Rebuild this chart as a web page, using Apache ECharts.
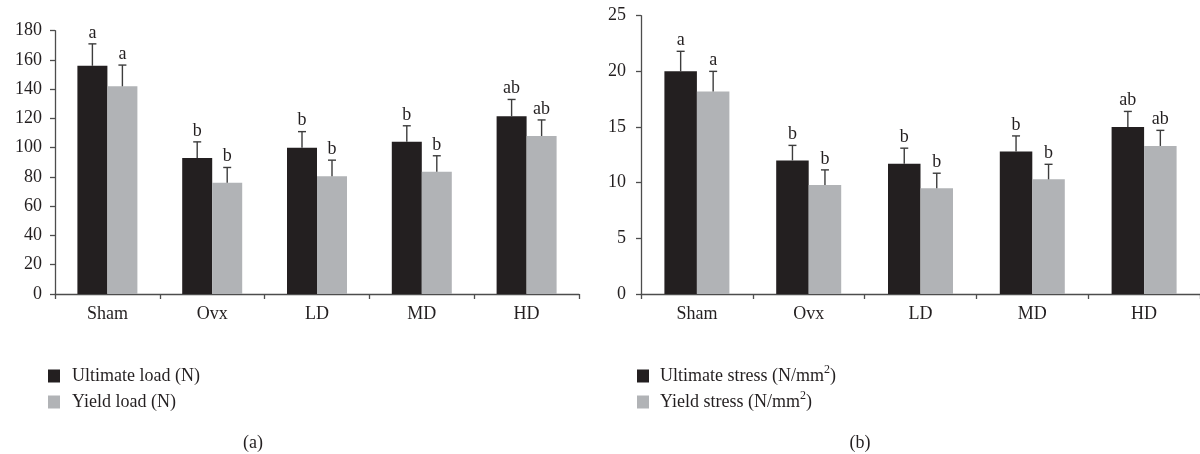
<!DOCTYPE html>
<html>
<head>
<meta charset="utf-8">
<script src="https://cdn.jsdelivr.net/npm/echarts@6/dist/echarts.min.js"></script>
<style>
html,body{margin:0;padding:0;background:#fff;}
#main{width:1200px;height:454px;}
</style>
</head>
<body>
<div id="main"></div>
<script>
// ---- data ----
const categories = ['Sham', 'Ovx', 'LD', 'MD', 'HD'];

const ultimateLoad = [156, 93, 100, 104, 121.5];
const ultimateLoadErr = [15, 11, 11, 11, 11.5];
const yieldLoad = [142, 76, 80.5, 83.5, 108];
const yieldLoadErr = [14.5, 10.5, 11, 11, 11];
const ultimateLoadLetters = ['a', 'b', 'b', 'b', 'ab'];
const yieldLoadLetters = ['a', 'b', 'b', 'b', 'ab'];

const ultimateStress = [20, 12, 11.7, 12.8, 15];
const ultimateStressErr = [1.8, 1.35, 1.4, 1.4, 1.4];
const yieldStress = [18.2, 9.8, 9.5, 10.3, 13.3];
const yieldStressErr = [1.8, 1.35, 1.35, 1.35, 1.4];
const ultimateStressLetters = ['a', 'b', 'b', 'b', 'ab'];
const yieldStressLetters = ['a', 'b', 'b', 'b', 'ab'];

const loadTicks = {min: 0, max: 180, interval: 20};
const stressTicks = {min: 0, max: 25, interval: 5};

// ---- style ----
const FONT = 'Liberation Serif';
const FS = 18;
const TXT = '#231f20';
const DARK = '#231f20';
const GREY = '#b1b3b6';
const AXIS = '#4d4d4d';
const ERR = '#3c3c3c';

function errSeries(name, xi, yi, values, errs, letters, side, barW) {
  return {
    name: name,
    type: 'custom',
    xAxisIndex: xi,
    yAxisIndex: yi,
    z: 5,
    data: values.map((v, i) => [i, v, errs[i]]),
    renderItem: function (params, api) {
      const i = api.value(0), v = api.value(1), e = api.value(2);
      const base = api.coord([i, v]);
      const top = api.coord([i, v + e]);
      const x = base[0] + side * barW / 2;
      const cap = 4;
      return {
        type: 'group',
        children: [
          {type: 'line', shape: {x1: x, y1: base[1], x2: x, y2: top[1]},
           style: {stroke: ERR, lineWidth: 1.4}},
          {type: 'line', shape: {x1: x - cap, y1: top[1], x2: x + cap, y2: top[1]},
           style: {stroke: ERR, lineWidth: 1.4}},
          {type: 'text', x: x, y: top[1] - 2,
           style: {text: letters[params.dataIndex], textAlign: 'center', textVerticalAlign: 'bottom',
                   font: FS + 'px "' + FONT + '"', fill: TXT}}
        ]
      };
    }
  };
}

function xAxisDef(gi) {
  return {
    type: 'category', gridIndex: gi, data: categories,
    axisLine: {lineStyle: {color: AXIS, width: 1.3}},
    axisTick: {show: true, length: 5, lineStyle: {color: AXIS, width: 1.3}},
    axisLabel: {color: TXT, fontFamily: FONT, fontSize: FS, margin: 11}
  };
}
function yAxisDef(gi, t, margin) {
  return {
    type: 'value', gridIndex: gi, min: t.min, max: t.max, interval: t.interval,
    splitLine: {show: false},
    axisLine: {show: true, lineStyle: {color: AXIS, width: 1.3}},
    axisTick: {show: true, length: 5, lineStyle: {color: AXIS, width: 1.3}},
    axisLabel: {color: TXT, fontFamily: FONT, fontSize: FS, margin: margin}
  };
}

const BW1 = 30, BW2 = 32.5;

const option = {
  animation: false,
  backgroundColor: '#fff',
  textStyle: {fontFamily: FONT},
  grid: [
    {left: 55, right: 621, top: 30.7, bottom: 160},
    {left: 641, right: 0, top: 15.7, bottom: 160}
  ],
  xAxis: [xAxisDef(0), xAxisDef(1)],
  yAxis: [yAxisDef(0, loadTicks, 13), yAxisDef(1, stressTicks, 15)],
  title: [
    {text: '(a)', left: 253, top: 434, textAlign: 'center',
     textStyle: {fontFamily: FONT, fontSize: FS, fontWeight: 'normal', color: TXT}, padding: 0},
    {text: '(b)', left: 860, top: 434, textAlign: 'center',
     textStyle: {fontFamily: FONT, fontSize: FS, fontWeight: 'normal', color: TXT}, padding: 0}
  ],
  legend: [
    {orient: 'vertical', left: 48, top: 364, itemWidth: 12, itemHeight: 13, itemGap: 2,
     icon: 'rect', padding: 0,
     data: ['Ultimate load (N)', 'Yield load (N)'],
     textStyle: {fontFamily: FONT, fontSize: FS, color: TXT, lineHeight: 24, padding: [0, 0, 0, 7]}},
    {orient: 'vertical', left: 637, top: 364, itemWidth: 12, itemHeight: 13, itemGap: 2,
     icon: 'rect', padding: 0,
     data: ['Ultimate stress (N/mm²)', 'Yield stress (N/mm²)'],
     formatter: function (n) { return n.replace('²', '{sup|2}'); },
     textStyle: {fontFamily: FONT, fontSize: FS, color: TXT, lineHeight: 24, padding: [0, 0, 0, 6],
       rich: {sup: {fontFamily: FONT, fontSize: 12, lineHeight: 12, verticalAlign: 'top', color: TXT}}}}
  ],
  series: [
    {name: 'Ultimate load (N)', type: 'bar', xAxisIndex: 0, yAxisIndex: 0, data: ultimateLoad,
     barWidth: BW1, barGap: '0%', itemStyle: {color: DARK}},
    {name: 'Yield load (N)', type: 'bar', xAxisIndex: 0, yAxisIndex: 0, data: yieldLoad,
     barWidth: BW1, barGap: '0%', itemStyle: {color: GREY}},
    errSeries('errUL', 0, 0, ultimateLoad, ultimateLoadErr, ultimateLoadLetters, -1, BW1),
    errSeries('errYL', 0, 0, yieldLoad, yieldLoadErr, yieldLoadLetters, 1, BW1),
    {name: 'Ultimate stress (N/mm²)', type: 'bar', xAxisIndex: 1, yAxisIndex: 1, data: ultimateStress,
     barWidth: BW2, barGap: '0%', itemStyle: {color: DARK}},
    {name: 'Yield stress (N/mm²)', type: 'bar', xAxisIndex: 1, yAxisIndex: 1, data: yieldStress,
     barWidth: BW2, barGap: '0%', itemStyle: {color: GREY}},
    errSeries('errUS', 1, 1, ultimateStress, ultimateStressErr, ultimateStressLetters, -1, BW2),
    errSeries('errYS', 1, 1, yieldStress, yieldStressErr, yieldStressLetters, 1, BW2)
  ]
};

const chart = echarts.init(document.getElementById('main'), null, {renderer: 'canvas'});
chart.setOption(option);
</script>
</body>
</html>
